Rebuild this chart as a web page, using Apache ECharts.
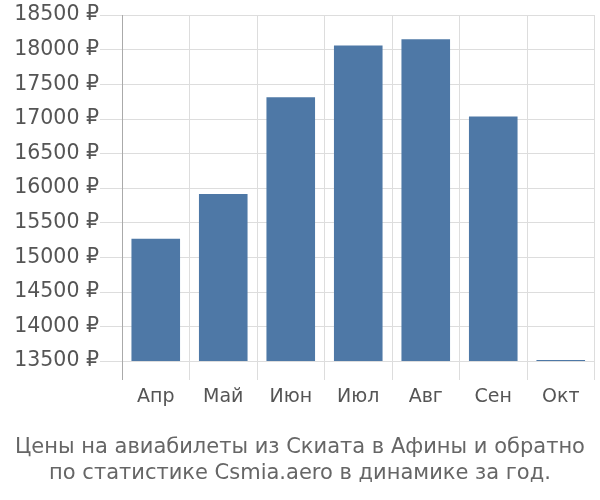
<!DOCTYPE html>
<html><head><meta charset="utf-8">
<script src="https://cdn.jsdelivr.net/npm/echarts@6/dist/echarts.min.js"></script>
<style>html,body{margin:0;padding:0;background:#fff}#c{width:600px;height:500px}</style>
</head><body><div id="c"></div>
<script>
var categories = ['Апр','Май','Июн','Июл','Авг','Сен','Окт'];
var prices = [15265, 15915, 17310, 18060, 18150, 17035, 13515];
var yTicks = {min: 13500, max: 18500, interval: 500};
var titleLines = ['Цены на авиабилеты из Скиата в Афины и обратно', 'по статистике Csmia.aero в динамике за год.'];

var chart = echarts.init(document.getElementById('c'), null, {renderer:'canvas'});
var font = 'DejaVu Sans';
chart.setOption({
  animation: false,
  title: {
    text: titleLines.join('\n'),
    left: 'center', top: 430,
    textStyle: {fontFamily: font, fontSize: 21, fontWeight: 'normal', color: '#666', lineHeight: 26}
  },
  grid: {left: 122, right: 5.5, top: 15, bottom: 139, containLabel: false},
  xAxis: {
    type: 'category', data: categories,
    axisLine: {show: false},
    axisTick: {show: true, length: 19, lineStyle: {color: '#ddd'}},
    splitLine: {show: true, lineStyle: {color: '#ddd'}},
    axisLabel: {fontFamily: font, fontSize: 19, color: '#555', margin: 27}
  },
  yAxis: {
    type: 'value', min: yTicks.min, max: yTicks.max, interval: yTicks.interval,
    axisLine: {show: false},
    axisTick: {show: true, length: 22, lineStyle: {color: '#ddd'}},
    splitLine: {show: true, lineStyle: {color: '#ddd'}},
    axisLabel: {fontFamily: font, fontSize: 20.5, color: '#555', margin: 23, formatter: function (v) { return v + ' ₽'; }}
  },
  series: [{
    type: 'bar', data: prices, barWidth: '72%',
    itemStyle: {color: '#4e78a6'}
  }, {
    type: 'line', data: [], markLine: {
      silent: true, symbol: 'none', label: {show: false},
      lineStyle: {color: '#aaa', type: 'solid', width: 1},
      data: [[{x: 122, y: 15}, {x: 122, y: 380}]]
    }
  }]
});
</script></body></html>
